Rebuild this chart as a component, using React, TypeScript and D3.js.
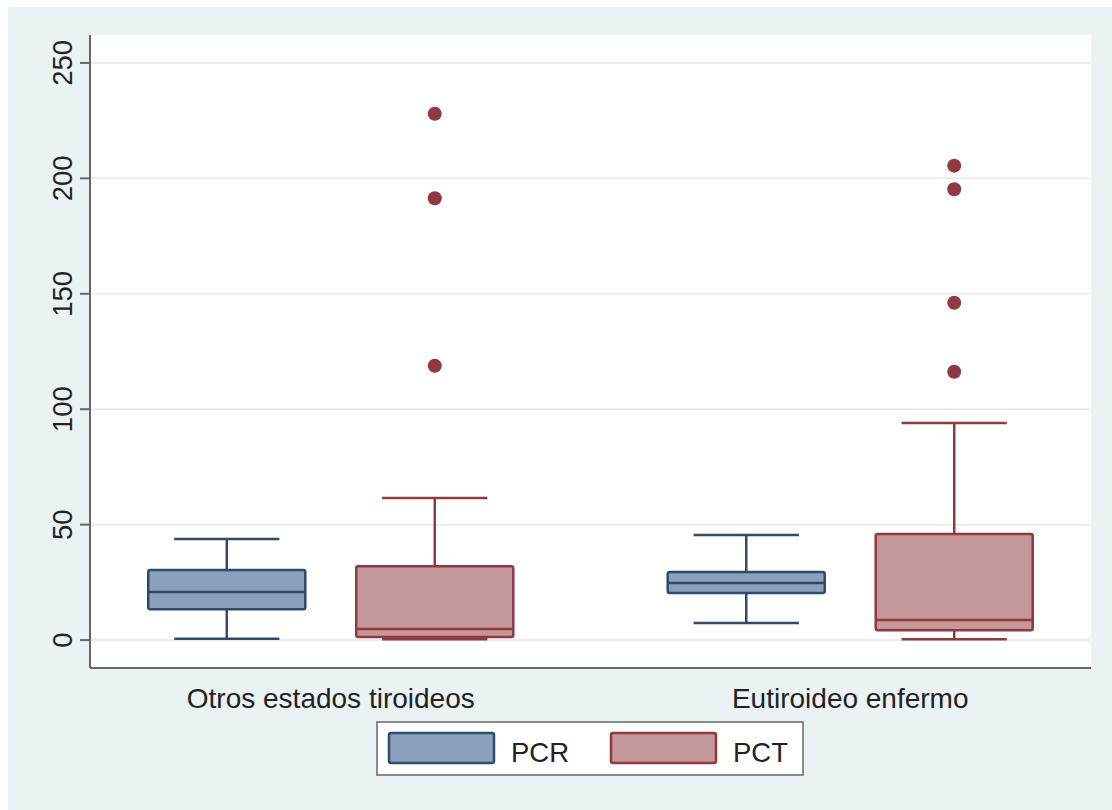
import React from "react";
import * as d3 from "d3";

const categories = ["Otros estados tiroideos", "Eutiroideo enfermo"];
const series = ["PCR", "PCT"];

// [lowerWhisker, q1, median, q3, upperWhisker] per category, per series
const pcrStats = [
  [0.6, 13.4, 20.8, 30.3, 43.8],
  [7.4, 20.4, 24.7, 29.5, 45.5],
];
const pctStats = [
  [0.3, 1.3, 4.8, 32, 61.5],
  [0.4, 4.3, 8.7, 45.9, 94],
];
const pctOutliers = [
  [228, 191.4, 118.8],
  [205.5, 195.3, 146.1, 116.2],
];
const pcrOutliers: number[][] = [[], []];
const yTicks = [0, 50, 100, 150, 200, 250];

const fills = ["#8ba0ba", "#c4979a"];
const strokes = ["#2f4a6a", "#8e3a40"];

const W = 1112;
const H = 810;
const left = 90;
const right = 1091;
const top = 35;
const bottom = 668;
const font = "'Liberation Sans', Arial, sans-serif";

export default function App() {
  const y = d3.scaleLinear().domain([-12.1, 262.1]).range([bottom, top]);
  const x = d3
    .scaleBand()
    .domain(categories)
    .range([left, right])
    .paddingInner(0.2)
    .paddingOuter(0.0635);
  const xi = d3
    .scaleBand()
    .domain(series)
    .range([0, x.bandwidth()])
    .paddingInner(0.245)
    .paddingOuter(0.1215);

  const stats = [pcrStats, pctStats];
  const outliers = [pcrOutliers, pctOutliers];
  const bw = xi.bandwidth();
  const capW = bw * 0.67;

  return (
    <div style={{ position: "absolute", left: 0, top: 0 }}>
      <svg width={W} height={H} style={{ display: "block" }}>
        <rect width={W} height={H} fill="#ffffff" />
        <rect x={8} y={7} width={W - 8} height={H - 7} fill="#eaf2f4" />
        <rect x={left} y={top} width={right - left} height={bottom - top} fill="#ffffff" />

        {/* grid */}
        {yTicks.map((t) => (
          <line
            key={"g" + t}
            x1={left}
            x2={right}
            y1={y(t)}
            y2={y(t)}
            stroke="#eaedef"
            strokeWidth={2}
          />
        ))}

        {/* boxes */}
        {categories.map((c, ci) =>
          series.map((s, si) => {
            const [lo, q1, med, q3, hi] = stats[si][ci];
            const cx = (x(c) ?? 0) + (xi(s) ?? 0) + bw / 2;
            const x0 = cx - bw / 2;
            return (
              <g key={c + s} stroke={strokes[si]} strokeWidth={2.5}>
                <line x1={cx} x2={cx} y1={y(hi)} y2={y(q3)} />
                <line x1={cx} x2={cx} y1={y(q1)} y2={y(lo)} />
                <line x1={cx - capW / 2} x2={cx + capW / 2} y1={y(hi)} y2={y(hi)} />
                <line x1={cx - capW / 2} x2={cx + capW / 2} y1={y(lo)} y2={y(lo)} />
                <rect
                  x={x0}
                  y={y(q3)}
                  width={bw}
                  height={y(q1) - y(q3)}
                  fill={fills[si]}
                  rx={2}
                />
                <line x1={x0} x2={x0 + bw} y1={y(med)} y2={y(med)} />
                {outliers[si][ci].map((v, k) => (
                  <circle key={k} cx={cx} cy={y(v)} r={7} fill={strokes[si]} stroke="none" />
                ))}
              </g>
            );
          })
        )}

        {/* axes */}
        <line x1={left} x2={left} y1={top} y2={bottom} stroke="#666" strokeWidth={2} />
        <line x1={left} x2={right} y1={bottom} y2={bottom} stroke="#666" strokeWidth={2} />
        {yTicks.map((t) => (
          <g key={"t" + t}>
            <line x1={left - 10} x2={left} y1={y(t)} y2={y(t)} stroke="#666" strokeWidth={2} />
            <text
              transform={`translate(72,${y(t)}) rotate(-90)`}
              textAnchor="middle"
              fontFamily={font}
              fontSize={27.5}
              fill="#222"
            >
              {t}
            </text>
          </g>
        ))}
        {categories.map((c) => (
          <text
            key={c}
            x={(x(c) ?? 0) + x.bandwidth() / 2}
            y={708}
            textAnchor="middle"
            fontFamily={font}
            fontSize={28}
            fill="#222"
          >
            {c}
          </text>
        ))}

        {/* legend */}
        <rect x={377} y={722} width={426} height={53} fill="#ffffff" stroke="#666" strokeWidth={1.5} />
        {series.map((s, si) => {
          const lx = 389 + si * 222;
          return (
            <g key={"l" + s}>
              <rect
                x={lx}
                y={733}
                width={105}
                height={30}
                rx={2}
                fill={fills[si]}
                stroke={strokes[si]}
                strokeWidth={2.5}
              />
              <text x={lx + 122} y={762} fontFamily={font} fontSize={27.5} fill="#222">
                {s}
              </text>
            </g>
          );
        })}
      </svg>
    </div>
  );
}
